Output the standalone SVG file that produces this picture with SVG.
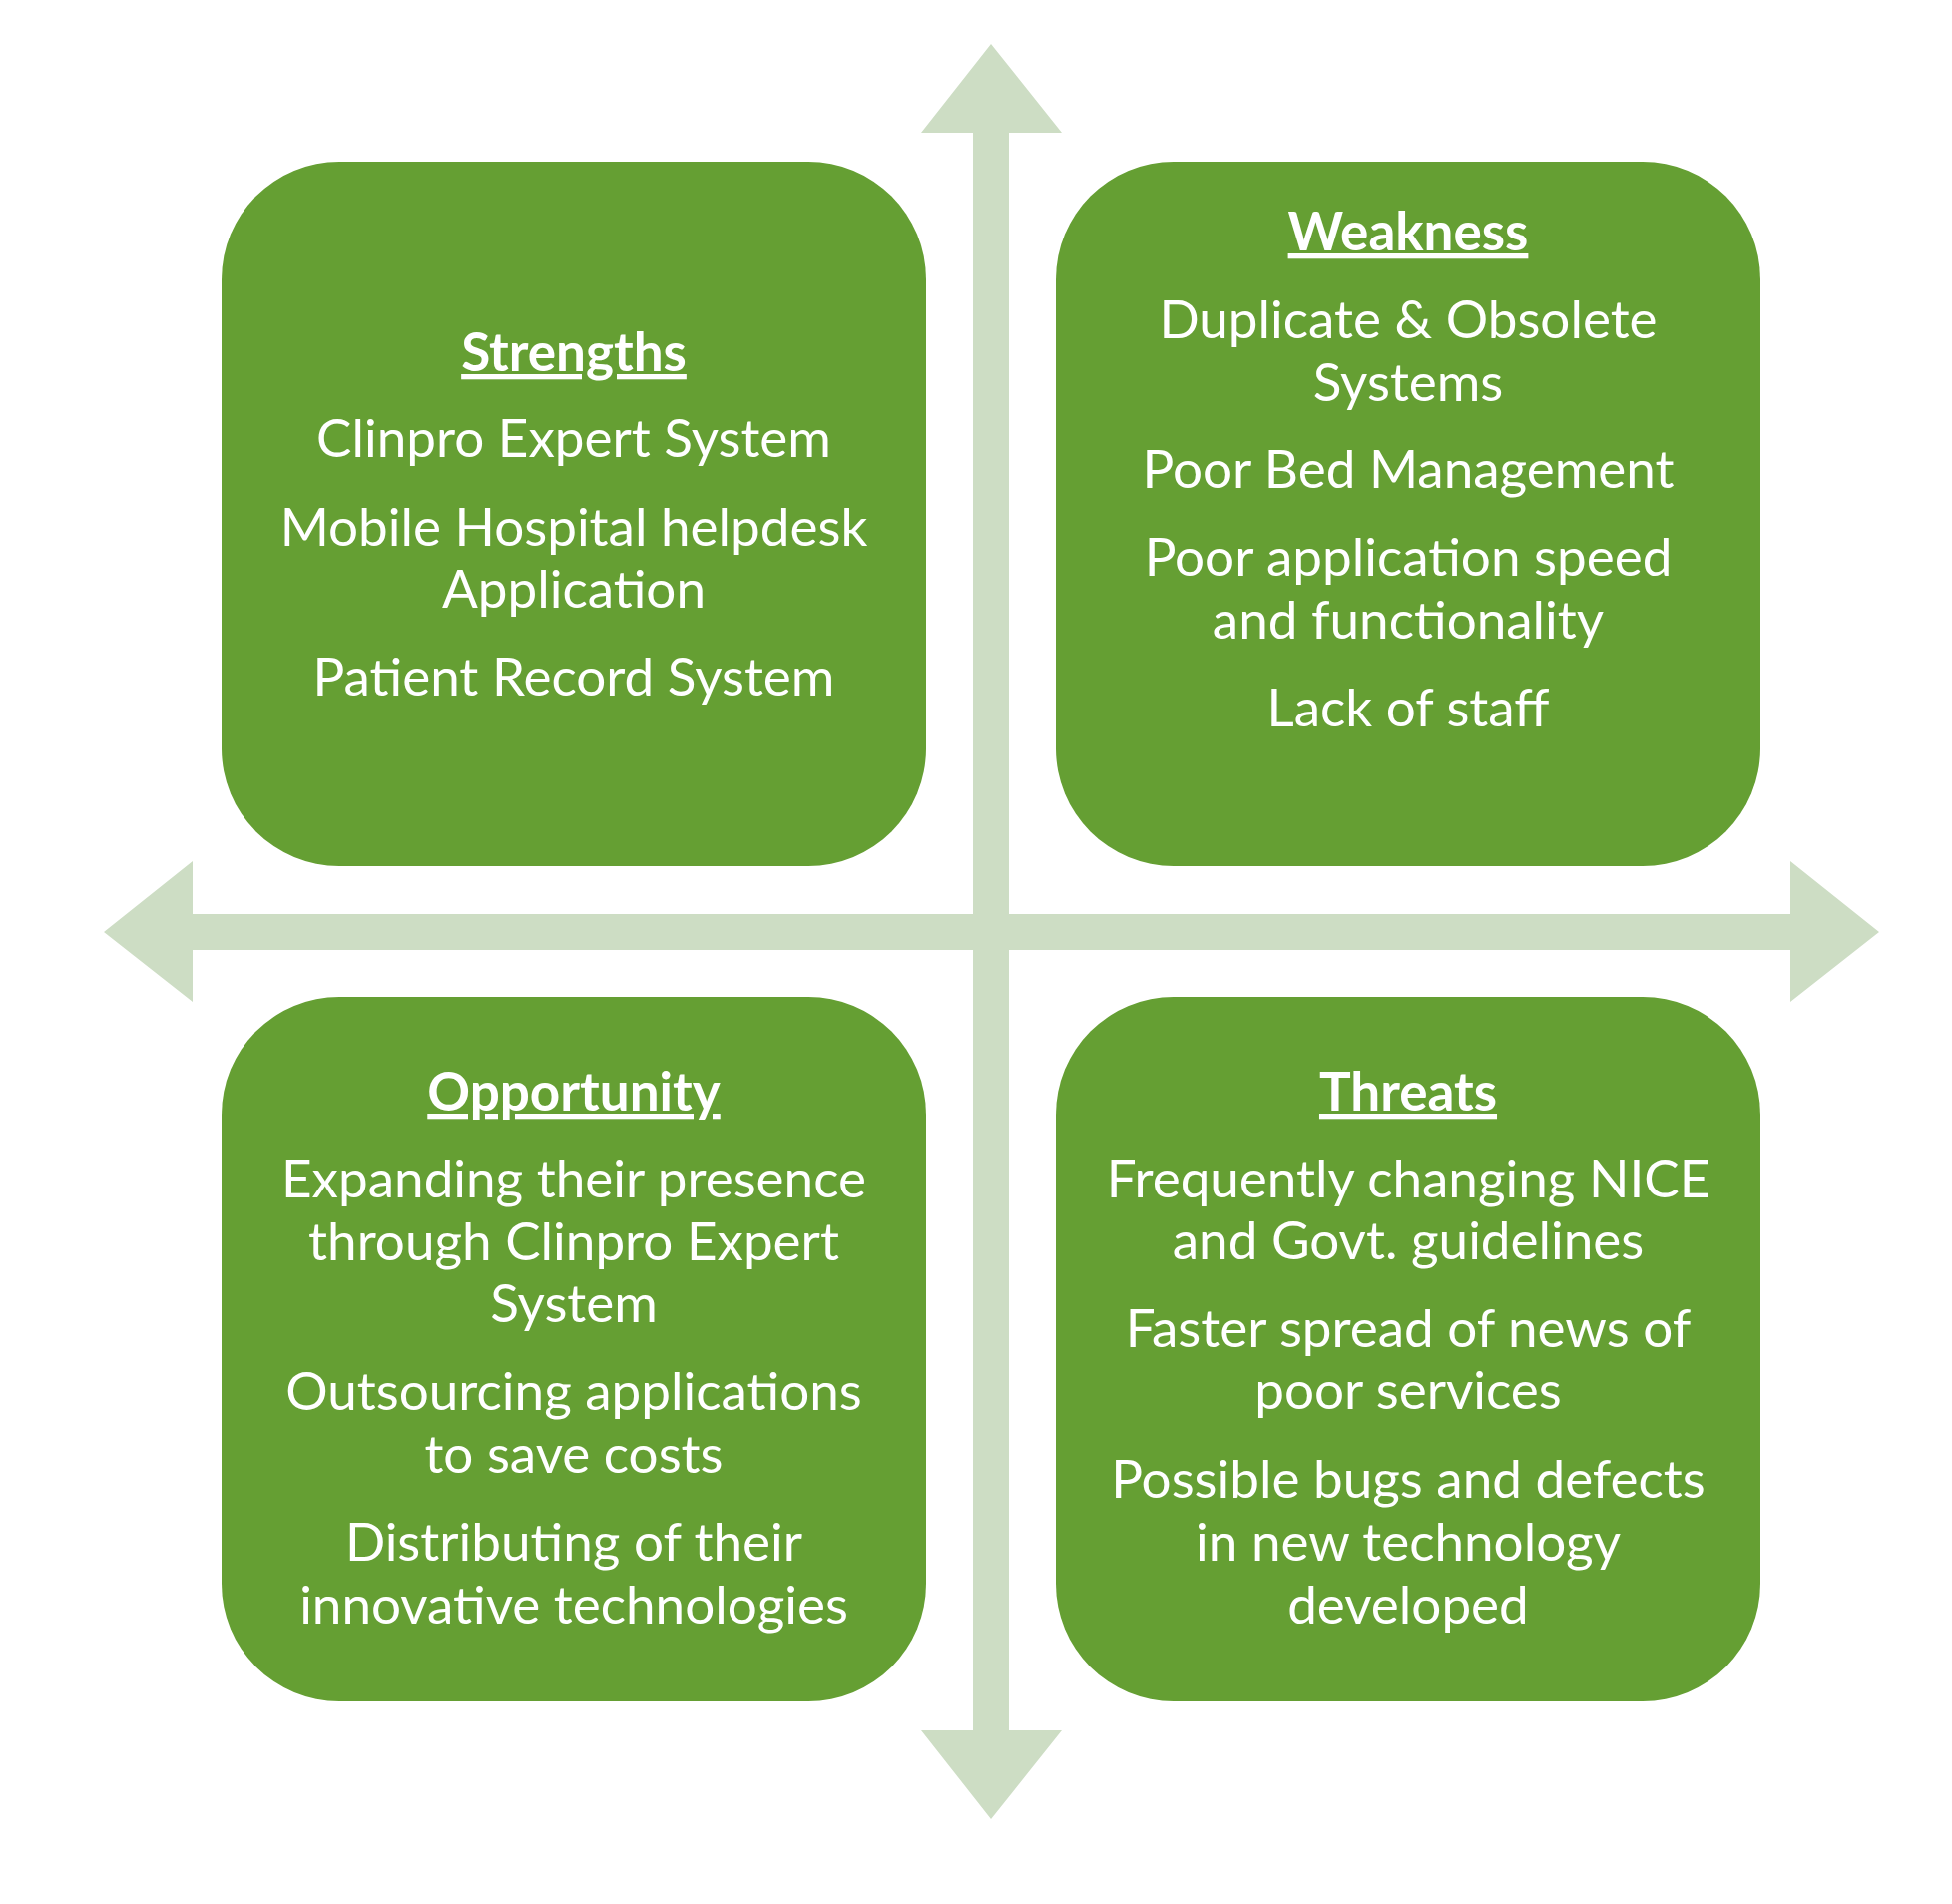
<svg xmlns="http://www.w3.org/2000/svg" width="1956" height="1908" viewBox="0 0 1956 1908">
<style>
.box{fill:#659F33}
.arrow{fill:#CDDDC4}
text{font-family:Lato,"Open Sans","Liberation Sans",sans-serif;font-size:53px;fill:#FFFFFF;text-anchor:middle}
.title{font-weight:bold;text-decoration:underline}
</style>
<rect width="1956" height="1908" fill="#FFFFFF"/>
<g id="connectors">
<polygon class="arrow" points="993,44 1064,133 1011,133 1011,1734 1064,1734 993,1823 923,1734 975,1734 975,133 923,133"/>
<polygon class="arrow" points="104,934 193,863 193,916 1794,916 1794,863 1883,934 1794,1004 1794,952 193,952 193,1004"/>
</g>
<g id="strengths">
<rect class="box" x="222" y="162" width="706" height="706" rx="118" ry="118"/>
<text class="title" x="575" y="372">Strengths</text>
<text x="575" y="458">Clinpro Expert System</text>
<text x="575" y="547">Mobile Hospital helpdesk</text>
<text x="575" y="609">Application</text>
<text x="575" y="697">Patient Record System</text>
</g>
<g id="weakness">
<rect class="box" x="1058" y="162" width="706" height="706" rx="118" ry="118"/>
<text class="title" x="1411" y="251">Weakness</text>
<text x="1411" y="339">Duplicate &amp; Obsolete</text>
<text x="1411" y="402">Systems</text>
<text x="1411" y="489">Poor Bed Management</text>
<text x="1411" y="577">Poor application speed</text>
<text x="1411" y="640">and functionality</text>
<text x="1411" y="728">Lack of staff</text>
</g>
<g id="opportunity">
<rect class="box" x="222" y="999" width="706" height="706" rx="118" ry="118"/>
<text class="title" x="575" y="1113">Opportunity</text>
<text x="575" y="1200">Expanding their presence</text>
<text x="575" y="1263">through Clinpro Expert</text>
<text x="575" y="1325">System</text>
<text x="575" y="1413">Outsourcing applications</text>
<text x="575" y="1476">to save costs</text>
<text x="575" y="1564">Distributing of their</text>
<text x="575" y="1627">innovative technologies</text>
</g>
<g id="threats">
<rect class="box" x="1058" y="999" width="706" height="706" rx="118" ry="118"/>
<text class="title" x="1411" y="1113">Threats</text>
<text x="1411" y="1200">Frequently changing NICE</text>
<text x="1411" y="1262">and Govt. guidelines</text>
<text x="1411" y="1350">Faster spread of news of</text>
<text x="1411" y="1412">poor services</text>
<text x="1411" y="1501">Possible bugs and defects</text>
<text x="1411" y="1564">in new technology</text>
<text x="1411" y="1627">developed</text>
</g>
</svg>
